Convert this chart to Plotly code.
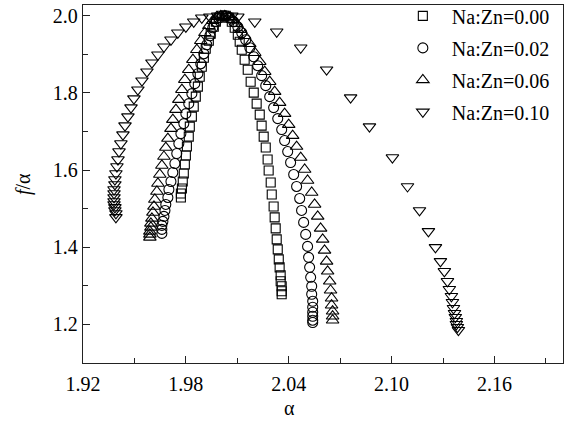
import plotly.graph_objects as go

# ---- data (alpha, f(alpha)) ----
labels = ["Na:Zn=0.00", "Na:Zn=0.02", "Na:Zn=0.06", "Na:Zn=0.10"]

alpha_000 = [1.9771, 1.9771, 1.9777, 1.9782, 1.9788, 1.9794, 1.9800, 1.9806, 1.9817, 1.9823,
             1.9835, 1.9846, 1.9858, 1.9870, 1.9881, 1.9893, 1.9905, 1.9916, 1.9934, 1.9945,
             1.9963, 1.9975, 1.9992, 2.0010,
             2.0033, 2.0050, 2.0068, 2.0085, 2.0103, 2.0114, 2.0126, 2.0143, 2.0161, 2.0178,
             2.0196, 2.0213, 2.0231, 2.0242, 2.0254, 2.0266, 2.0277, 2.0283, 2.0295, 2.0301,
             2.0312, 2.0318, 2.0324, 2.0330, 2.0336, 2.0342, 2.0347, 2.0353, 2.0353, 2.0359,
             2.0359, 2.0359]
f_000 = [1.5291, 1.5395, 1.5524, 1.5705, 1.5912, 1.6145, 1.6378, 1.6611, 1.6869, 1.7128,
         1.7387, 1.7646, 1.7904, 1.8163, 1.8422, 1.8680, 1.8913, 1.9146, 1.9353, 1.9534,
         1.9715, 1.9845, 1.9948, 2.0000,
         2.0000, 1.9948, 1.9845, 1.9690, 1.9508, 1.9327, 1.9120, 1.8862, 1.8603, 1.8292,
         1.8008, 1.7723, 1.7439, 1.7154, 1.6869, 1.6585, 1.6274, 1.5990, 1.5679, 1.5369,
         1.5058, 1.4774, 1.4489, 1.4204, 1.3946, 1.3687, 1.3480, 1.3273, 1.3118, 1.2989,
         1.2859, 1.2782]

alpha_002 = [1.9660, 1.9660, 1.9660, 1.9666, 1.9672, 1.9678, 1.9683, 1.9695, 1.9701, 1.9713,
             1.9724, 1.9736, 1.9747, 1.9759, 1.9771, 1.9788, 1.9800, 1.9817, 1.9835, 1.9852,
             1.9870, 1.9887, 1.9905, 1.9922, 1.9940, 1.9957, 1.9975, 1.9992,
             2.0015, 2.0033, 2.0056, 2.0079, 2.0103, 2.0126, 2.0149, 2.0173, 2.0196, 2.0219,
             2.0242, 2.0266, 2.0289, 2.0312, 2.0336, 2.0359, 2.0376, 2.0394, 2.0411, 2.0429,
             2.0446, 2.0464, 2.0475, 2.0487, 2.0499, 2.0510, 2.0516, 2.0522, 2.0528, 2.0534,
             2.0534, 2.0540, 2.0540, 2.0540, 2.0540, 2.0540, 2.0540]
f_002 = [1.4360, 1.4463, 1.4567, 1.4670, 1.4800, 1.4955, 1.5110, 1.5291, 1.5498, 1.5705,
         1.5938, 1.6171, 1.6430, 1.6688, 1.6947, 1.7206, 1.7464, 1.7723, 1.7982, 1.8241,
         1.8499, 1.8758, 1.9017, 1.9250, 1.9483, 1.9690, 1.9845, 1.9948,
         2.0000, 2.0000, 1.9948, 1.9845, 1.9715, 1.9560, 1.9379, 1.9172, 1.8939, 1.8706,
         1.8448, 1.8189, 1.7904, 1.7620, 1.7335, 1.7051, 1.6766, 1.6481, 1.6197, 1.5886,
         1.5576, 1.5265, 1.4955, 1.4644, 1.4334, 1.4023, 1.3739, 1.3480, 1.3221, 1.2989,
         1.2782, 1.2600, 1.2445, 1.2316, 1.2212, 1.2109, 1.2050]

alpha_006 = [1.9590, 1.9590, 1.9590, 1.9596, 1.9596, 1.9602, 1.9608, 1.9614, 1.9619, 1.9631,
             1.9637, 1.9648, 1.9660, 1.9672, 1.9683, 1.9695, 1.9713, 1.9724, 1.9742, 1.9759,
             1.9777, 1.9794, 1.9817, 1.9841, 1.9864, 1.9887, 1.9911, 1.9934, 1.9957, 1.9980,
             2.0004, 2.0027, 2.0050, 2.0074, 2.0097, 2.0120, 2.0143, 2.0173, 2.0202, 2.0231,
             2.0260, 2.0289, 2.0318, 2.0347, 2.0376, 2.0400, 2.0423, 2.0446, 2.0470, 2.0493,
             2.0510, 2.0534, 2.0551, 2.0569, 2.0586, 2.0598, 2.0609, 2.0621, 2.0627, 2.0639,
             2.0644, 2.0650, 2.0650, 2.0656, 2.0656, 2.0656]
f_006 = [1.4256, 1.4334, 1.4411, 1.4515, 1.4619, 1.4748, 1.4903, 1.5058, 1.5239, 1.5446,
         1.5653, 1.5886, 1.6119, 1.6352, 1.6585, 1.6818, 1.7076, 1.7309, 1.7568, 1.7827,
         1.8085, 1.8344, 1.8603, 1.8862, 1.9120, 1.9353, 1.9560, 1.9741, 1.9871, 1.9974,
         2.0000, 2.0000, 1.9974, 1.9897, 1.9793, 1.9638, 1.9483, 1.9276, 1.9043, 1.8810,
         1.8551, 1.8292, 1.8034, 1.7749, 1.7464, 1.7180, 1.6895, 1.6611, 1.6326, 1.6016,
         1.5731, 1.5420, 1.5110, 1.4800, 1.4489, 1.4204, 1.3920, 1.3635, 1.3377, 1.3118,
         1.2885, 1.2678, 1.2497, 1.2342, 1.2212, 1.2109]

alpha_010 = [1.9392, 1.9392, 1.9386, 1.9386, 1.9381, 1.9381, 1.9381, 1.9381, 1.9381, 1.9386,
             1.9386, 1.9392, 1.9398, 1.9404, 1.9410, 1.9421, 1.9433, 1.9445, 1.9462, 1.9480,
             1.9497, 1.9520, 1.9544, 1.9573, 1.9602, 1.9637, 1.9672, 1.9713, 1.9753, 1.9800,
             1.9846, 1.9893, 1.9940, 1.9986, 2.0033, 2.0068,
             2.0103, 2.0202, 2.0330, 2.0470, 2.0621, 2.0761, 2.0871, 2.1005, 2.1093, 2.1163,
             2.1215, 2.1256, 2.1285, 2.1308, 2.1326, 2.1337, 2.1349, 2.1355, 2.1361, 2.1367,
             2.1372, 2.1378, 2.1378, 2.1384, 2.1390]
f_010 = [1.4774, 1.4877, 1.4955, 1.5033, 1.5110, 1.5188, 1.5291, 1.5395, 1.5498, 1.5628,
         1.5757, 1.5912, 1.6093, 1.6274, 1.6481, 1.6688, 1.6921, 1.7154, 1.7387, 1.7620,
         1.7853, 1.8085, 1.8318, 1.8551, 1.8784, 1.8991, 1.9198, 1.9379, 1.9560, 1.9715,
         1.9845, 1.9948, 1.9974, 2.0000, 2.0000, 2.0000,
         1.9974, 1.9845, 1.9586, 1.9172, 1.8603, 1.7878, 1.7128, 1.6326, 1.5576, 1.4955,
         1.4411, 1.3997, 1.3635, 1.3377, 1.3118, 1.2911, 1.2730, 1.2574, 1.2419, 1.2290,
         1.2187, 1.2083, 1.2005, 1.1928, 1.1850]

x_ticks = [1.92, 1.98, 2.04, 2.10, 2.16]
y_ticks = [1.2, 1.4, 1.6, 1.8, 2.0]

series = [
    (labels[0], alpha_000, f_000, "square-open", 9),
    (labels[1], alpha_002, f_002, "circle-open", 10),
    (labels[2], alpha_006, f_006, "triangle-up-open", 11),
    (labels[3], alpha_010, f_010, "triangle-down-open", 11),
]

FONT = "Liberation Serif, Times New Roman, serif"

fig = go.Figure()
for i, (name, xs, ys, sym, sz) in enumerate(series):
    fig.add_trace(go.Scatter(
        x=xs, y=ys, mode="markers", name=name, legendgroup=f"g{i}",
        marker=dict(symbol=sym, size=sz, color="black", line=dict(width=1.1, color="black")),
    ))

axis_common = dict(
    showline=True, linecolor="#222", linewidth=1.4, mirror=True,
    ticks="inside", ticklen=7, tickwidth=1.2, tickcolor="#222",
    showgrid=False, zeroline=False, automargin=False,
    tickfont=dict(family=FONT, size=20, color="black"),
)

fig.update_xaxes(range=[1.92, 2.20], tickvals=x_ticks, ticktext=[f"{v:.2f}" for v in x_ticks],
                 ticklabelstandoff=3,
                 minor=dict(ticks="inside", ticklen=5, tickwidth=1.2, tickcolor="#222", dtick=0.03, tick0=1.92),
                 **axis_common)
fig.update_yaxes(range=[1.10, 2.028], tickvals=y_ticks, ticktext=[f"{v:.1f}" for v in y_ticks],
                 minor=dict(ticks="inside", ticklen=5, tickwidth=1.2, tickcolor="#222", dtick=0.1, tick0=1.1),
                 **axis_common)

fig.update_layout(
    width=565, height=421,
    margin=dict(l=83, r=2, t=5, b=58, autoexpand=False),
    paper_bgcolor="white", plot_bgcolor="white",
    font=dict(family=FONT, color="black"),
    showlegend=True,
    legend=dict(x=0.983, y=1.024, xanchor="right", yanchor="top",
                bgcolor="rgba(0,0,0,0)", font=dict(family=FONT, size=20, color="black"),
                itemwidth=48, tracegroupgap=3, traceorder="grouped"),
    annotations=[
        dict(text="α", xref="paper", yref="paper", x=0.431, y=-0.125,
             showarrow=False, font=dict(family=FONT, size=20, color="black"), yanchor="middle"),
        dict(text="<i>f</i>/α", xref="paper", yref="paper", x=-0.125, y=0.5, textangle=-90,
             showarrow=False, font=dict(family=FONT, size=20, color="black"), xanchor="center"),
    ],
)

fig.write_html("out.html", config={"displayModeBar": False},
               post_script="document.body.style.margin='0';")
